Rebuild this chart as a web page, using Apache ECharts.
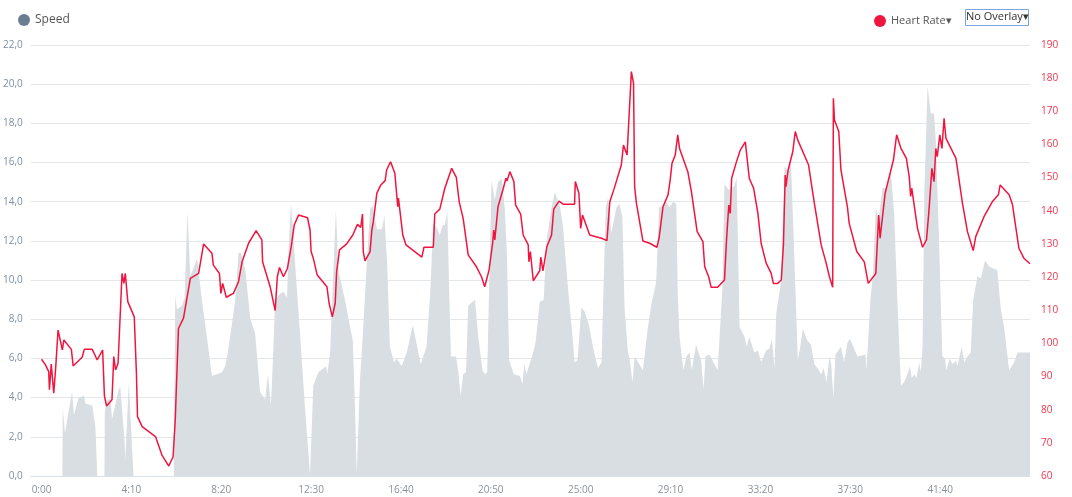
<!DOCTYPE html>
<html>
<head>
<meta charset="utf-8">
<script src="https://cdn.jsdelivr.net/npm/echarts@6/dist/echarts.min.js"></script>
<style>
  html, body { margin: 0; padding: 0; background: #fff; }
  #chart { width: 1072px; height: 497px; }
</style>
</head>
<body>
<div id="chart"></div>
<script>
// time in seconds from start
const tickSeconds = [0, 250, 500, 750, 1000, 1250, 1500, 1750, 2000, 2250, 2500];

// [sec, km/h]
const speed = [
  [0,0],[58,0],[59,3.5],[65,2.2],[85,4.3],[90,3.1],[103,4.0],[118,4.1],[122,3.7],[141,3.6],[150,2.5],[155,0],
  [175,0],[176,3.2],[181,3.9],[192,3.9],[196,2.9],[206,3.7],[213,4.3],[219,4.6],[231,1.8],[233,0.8],[243,4.8],[247,3.2],[256,0],
  [368,0],[372,9.2],[377,8.5],[391,8.7],[398,9.1],[406,13.5],[414,10.2],[433,11.1],[446,9.0],[460,7.1],[474,5.1],[488,5.2],
  [502,5.3],[511,5.6],[518,6.3],[530,7.8],[539,9.0],[548,11.4],[555,11.4],[567,10.5],[581,8.0],[594,7.3],[608,4.3],[622,3.9],
  [630,5.2],[638,3.6],[644,6.0],[650,9.0],[664,9.3],[673,9.4],[683,9.1],[687,11.5],[694,13.9],[700,12.5],[706,10.7],[719,7.3],
  [733,3.5],[747,0.05],[756,4.6],[770,5.3],[792,5.6],[795,5.2],[803,6.3],[812,10.5],[819,13.6],[826,10.5],[844,9.0],[866,6.9],
  [872,3.5],[877,0.1],[886,4.9],[895,7.6],[906,11.2],[914,13.6],[921,13.8],[933,12.6],[947,12.6],[954,13.3],[962,10.7],[969,6.6],
  [981,5.8],[988,6.0],[993,5.9],[1002,5.6],[1016,6.3],[1033,7.7],[1055,5.7],[1071,6.6],[1081,9.2],[1090,12.9],[1099,12.7],
  [1108,12.3],[1116,12.8],[1122,12.8],[1129,13.5],[1134,9.5],[1139,6.1],[1153,6.1],[1159,5.4],[1166,4.1],[1173,5.2],[1181,5.3],
  [1187,8.7],[1206,9.0],[1215,7.1],[1227,5.4],[1233,5.2],[1240,5.3],[1245,9.5],[1252,15.1],[1261,14.1],[1270,15.0],[1280,15.2],
  [1289,13.6],[1295,11.2],[1301,5.9],[1314,5.2],[1319,5.3],[1331,5.1],[1338,4.7],[1343,5.7],[1349,5.2],[1356,5.6],[1368,6.3],
  [1375,6.9],[1386,8.9],[1397,9.0],[1405,12.0],[1419,13.7],[1428,14.5],[1442,13.8],[1451,12.7],[1465,9.5],[1475,7.6],[1483,5.8],
  [1491,5.9],[1495,5.8],[1502,8.6],[1511,8.4],[1523,7.7],[1534,6.6],[1548,5.5],[1558,5.8],[1564,10.0],[1570,13.7],[1576,14.2],
  [1585,12.4],[1592,13.0],[1599,13.7],[1608,13.9],[1616,13.2],[1622,8.6],[1631,6.4],[1636,6.0],[1644,4.8],[1650,6.1],[1673,5.4],
  [1687,7.6],[1697,8.8],[1710,9.9],[1718,13.7],[1727,13.8],[1738,14.0],[1747,13.7],[1757,14.0],[1766,13.9],[1770,9.3],[1775,7.1],
  [1786,5.4],[1794,6.1],[1803,6.3],[1809,5.4],[1821,6.7],[1835,5.9],[1842,4.4],[1847,6.1],[1858,6.2],[1881,5.4],[1894,9.5],
  [1900,14.9],[1912,14.6],[1927,14.8],[1934,15.2],[1942,7.6],[1956,7.1],[1962,6.6],[1969,7.1],[1983,6.3],[1993,6.4],[2002,5.8],
  [2016,6.4],[2025,6.5],[2032,7.0],[2039,5.5],[2044,8.3],[2058,10.0],[2067,15.8],[2076,15.6],[2085,16.0],[2094,11.4],[2104,5.9],
  [2110,6.5],[2118,7.5],[2131,6.9],[2141,6.7],[2150,5.7],[2159,5.5],[2169,5.2],[2176,5.5],[2184,4.8],[2192,6.1],[2197,5.7],
  [2203,4.0],[2209,6.2],[2224,6.6],[2233,5.8],[2242,6.8],[2249,7.0],[2261,6.5],[2270,6.1],[2292,6.2],[2295,5.4],[2306,9.0],
  [2313,10.3],[2321,13.7],[2329,13.1],[2340,14.7],[2353,14.7],[2363,15.5],[2372,13.4],[2381,9.0],[2391,4.6],[2400,4.8],[2409,5.2],
  [2416,5.6],[2421,5.0],[2428,5.2],[2434,5.0],[2442,5.8],[2446,5.3],[2451,6.6],[2456,14.4],[2465,19.9],[2474,18.5],[2483,18.5],
  [2488,17.1],[2497,12.0],[2506,6.1],[2514,6.0],[2517,5.4],[2527,6.0],[2534,5.7],[2544,5.9],[2548,5.6],[2560,6.6],[2567,5.8],
  [2576,6.1],[2585,6.3],[2592,9.0],[2604,10.2],[2613,10.1],[2625,11.0],[2636,10.7],[2659,10.5],[2669,8.5],[2678,7.6],[2692,5.4],
  [2706,5.8],[2715,6.3],[2750,6.3]
];

// [sec, bpm]
const heartRate = [
  [0,95.2],[11,93.5],[20,91.5],[22,86],[27,93.8],[31,93.8],[34,85],[39,92],[46,104],[58,98],[62,101],[83,98.2],[88,93.2],
  [113,95.8],[119,98.2],[141,98.2],[155,95],[170,98],[175,84.1],[181,81.1],[196,83],[201,96],[206,92],[213,94],[224,121.1],
  [229,118.1],[233,121.1],[240,112.6],[258,108],[264,91],[267,77.9],[280,74.9],[317,71.9],[335,66.3],[354,63],[366,65.8],
  [372,76.9],[381,104.5],[395,107.6],[414,119.6],[437,121.1],[451,130],[474,127.2],[478,123.6],[495,121.1],[499,115.1],
  [504,118.1],[514,113.9],[525,114.6],[534,115.1],[548,118.6],[558,124.6],[576,130.2],[597,134],[613,131.2],[615,124.6],
  [636,117.1],[650,109.9],[656,120.1],[662,122.9],[673,120.1],[684,122.6],[694,128.7],[703,135.7],[715,138.7],[740,137.9],
  [747,134.2],[750,127.7],[756,125.7],[767,120.6],[794,117.1],[800,112.1],[809,108],[817,112.1],[821,121.6],[829,128.2],
  [849,130],[866,132.7],[879,135.9],[888,135],[893,139],[895,127.7],[900,124.9],[914,127.7],[919,134.2],[923,136.7],
  [933,145.3],[944,147.8],[956,149.1],[960,152.3],[971,154.8],[983,151.3],[991,141.2],[993,143.8],[1005,132.7],[1014,129.7],
  [1058,126],[1064,129],[1090,129],[1094,139],[1108,140.5],[1122,146.8],[1141,152.8],[1154,150.1],[1162,142.7],[1173,137.7],
  [1187,126.7],[1210,123.1],[1224,120.1],[1233,117.1],[1245,122.1],[1255,130.2],[1258,134.2],[1261,131.2],[1270,141.2],
  [1284,146.5],[1292,149.8],[1295,149],[1303,151.8],[1314,148.8],[1319,141.7],[1333,139],[1340,132.7],[1354,129.7],
  [1356,124.6],[1360,127.7],[1368,118.9],[1386,121.9],[1389,126],[1395,121.9],[1406,129.2],[1419,132.7],[1425,140.5],
  [1440,142.9],[1451,142],[1483,142],[1485,148.8],[1495,145.3],[1500,134.7],[1505,138.7],[1525,132.7],[1558,131.7],
  [1573,131],[1581,142.7],[1592,146.3],[1613,153.8],[1619,159.8],[1629,156.8],[1641,182],[1647,178.4],[1650,147.3],
  [1655,142.3],[1673,130.9],[1692,130.2],[1712,129],[1718,131.7],[1729,141.2],[1743,144.8],[1749,149.3],[1754,154.3],
  [1763,156.8],[1770,162.9],[1775,158.8],[1798,151.8],[1808,145.8],[1824,133.7],[1840,130.7],[1845,123.1],[1856,120.1],
  [1863,116.9],[1881,116.9],[1900,119.1],[1906,131.7],[1912,141.7],[1916,139.2],[1920,149.8],[1932,154.3],[1944,158.3],
  [1958,160.8],[1969,149.8],[1981,146.8],[1993,139.2],[2002,130.2],[2016,124.2],[2030,121.1],[2036,118.1],[2048,118.1],
  [2058,119.1],[2064,129.7],[2069,150.8],[2071,147.3],[2077,152.3],[2090,157.8],[2097,163.9],[2104,161.3],[2134,153.8],
  [2150,142.3],[2169,129.7],[2183,124.2],[2192,120.1],[2201,116.9],[2203,173.9],[2206,167.4],[2218,163.9],[2224,152.3],
  [2242,141.2],[2247,136.2],[2268,127.7],[2289,124.6],[2300,118.1],[2321,121.1],[2329,138.7],[2333,131.7],[2347,145.3],
  [2370,155.3],[2379,162.9],[2391,158.8],[2406,155.8],[2414,150.3],[2418,144.3],[2421,146.8],[2437,134.7],[2451,129],
  [2462,131.2],[2469,140.2],[2477,152.8],[2483,148.8],[2488,158.8],[2492,156.3],[2499,162.9],[2505,158.8],[2511,167.9],
  [2516,161.9],[2544,155.8],[2562,142.3],[2576,133.7],[2592,128],[2599,132.2],[2622,138.2],[2645,142.7],[2662,144.8],
  [2667,147.8],[2692,144.8],[2701,142],[2719,128.7],[2733,125.7],[2750,124]
];

function fmtTime(s) {
  let m = Math.floor(s / 60);
  let sec = s % 60;
  return m + ':' + (sec < 10 ? '0' : '') + sec;
}

const font = "'Open Sans', Lato, sans-serif";
let chart = echarts.init(document.getElementById('chart'));

chart.setOption({
  animation: false,
  textStyle: { fontFamily: font },
  grid: { left: 30, right: 42, top: 45, bottom: 21, containLabel: false },
  legend: [
    {
      left: 13, top: 9,
      icon: 'circle', itemWidth: 12, itemHeight: 12, itemGap: 6,
      textStyle: { color: '#555', fontSize: 12, fontFamily: font },
      data: ['Speed']
    },
    {
      left: 869, top: 10,
      icon: 'circle', itemWidth: 12, itemHeight: 12,
      textStyle: { color: '#555', fontSize: 11, fontFamily: font },
      formatter: '{name}\u25BE',
      data: ['Heart Rate']
    }
  ],
  graphic: [
    {
      type: 'rect', left: 965, top: 9,
      shape: { width: 63, height: 16 },
      style: { fill: '#fff', stroke: '#7aa6dd', lineWidth: 1 }
    },
    {
      type: 'text', left: 966, top: 11,
      style: { text: 'No Overlay\u25BE', fill: '#333', font: "11px 'Open Sans', sans-serif" }
    }
  ],
  xAxis: {
    type: 'value',
    min: -30, max: 2750,
    axisLine: { show: true, lineStyle: { color: '#dde3ea' } },
    axisTick: { show: false },
    splitLine: { show: false },
    axisLabel: {
      customValues: tickSeconds,
      formatter: (v) => fmtTime(v),
      color: '#8a9099', fontSize: 10, margin: 9
    }
  },
  yAxis: [
    {
      type: 'value', min: 0, max: 22, interval: 2,
      axisLine: { show: false }, axisTick: { show: false },
      splitLine: { lineStyle: { color: '#e4e6e8' } },
      axisLabel: {
        formatter: (v) => v.toFixed(1).replace('.', ','),
        color: '#7e8ea0', fontSize: 10, margin: 8
      }
    },
    {
      type: 'value', min: 60, max: 190, interval: 10,
      position: 'right',
      axisLine: { show: false }, axisTick: { show: false },
      splitLine: { show: false },
      axisLabel: { color: '#f0364f', fontSize: 10, margin: 11 }
    }
  ],
  series: [
    {
      name: 'Speed',
      type: 'line',
      yAxisIndex: 0,
      data: speed,
      showSymbol: false,
      color: '#6b7e91',
      lineStyle: { width: 0 },
      areaStyle: { color: '#d9dee2', opacity: 1 },
      z: 1
    },
    {
      name: 'Heart Rate',
      type: 'line',
      yAxisIndex: 1,
      data: heartRate,
      showSymbol: false,
      color: '#f0153e',
      lineStyle: { width: 1.5, color: '#f0153e' },
      z: 3
    }
  ]
});
</script>
</body>
</html>
